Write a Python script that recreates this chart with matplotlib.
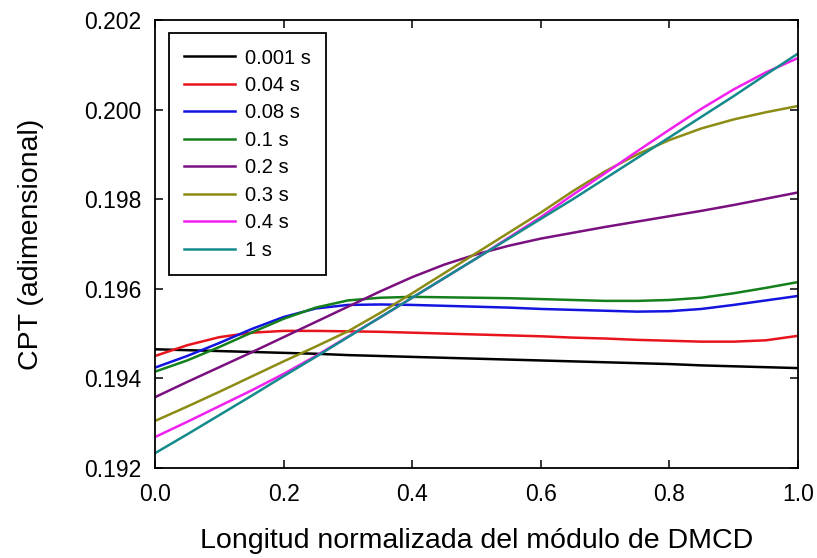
import numpy as np
import matplotlib
matplotlib.use('Agg')
import matplotlib.pyplot as plt

plt.rcParams['font.family'] = ['Liberation Sans', 'DejaVu Sans']

# posicion normalizada del modulo
x = [0.0, 0.05, 0.1, 0.15, 0.2, 0.25, 0.3, 0.35, 0.4, 0.45, 0.5,
     0.55, 0.6, 0.65, 0.7, 0.75, 0.8, 0.85, 0.9, 0.95, 1.0]

t_0001 = [0.19465, 0.19463, 0.19461, 0.19459, 0.19457, 0.19455, 0.19452, 0.19450, 0.19448, 0.19446, 0.19444,
          0.19442, 0.19440, 0.19438, 0.19436, 0.19434, 0.19432, 0.19429, 0.19427, 0.19425, 0.19423]
t_004 = [0.19450, 0.19474, 0.19492, 0.19502, 0.19506, 0.19506, 0.19505, 0.19504, 0.19502, 0.19500, 0.19498,
         0.19496, 0.19494, 0.19491, 0.19489, 0.19486, 0.19484, 0.19482, 0.19482, 0.19485, 0.19495]
t_008 = [0.19424, 0.19450, 0.19479, 0.19510, 0.19537, 0.19556, 0.19564, 0.19565, 0.19564, 0.19562, 0.19560,
         0.19558, 0.19555, 0.19553, 0.19551, 0.19549, 0.19550, 0.19555, 0.19564, 0.19574, 0.19584]
t_01 = [0.19415, 0.19440, 0.19470, 0.19502, 0.19533, 0.19558, 0.19574, 0.19580, 0.19582, 0.19581, 0.19580,
        0.19579, 0.19577, 0.19575, 0.19573, 0.19573, 0.19575, 0.19580, 0.19590, 0.19602, 0.19615]
t_02 = [0.19358, 0.19392, 0.19425, 0.19458, 0.19492, 0.19526, 0.19560, 0.19594, 0.19626, 0.19654, 0.19677,
        0.19696, 0.19712, 0.19725, 0.19738, 0.19750, 0.19762, 0.19774, 0.19787, 0.19801, 0.19815]
t_03 = [0.19305, 0.19337, 0.19370, 0.19404, 0.19438, 0.19471, 0.19505, 0.19546, 0.19590, 0.19635, 0.19680,
        0.19725, 0.19770, 0.19818, 0.19862, 0.19900, 0.19932, 0.19958, 0.19978, 0.19994, 0.20008]
t_04 = [0.19269, 0.19303, 0.19338, 0.19373, 0.19410, 0.19450, 0.19493, 0.19536, 0.19580, 0.19624, 0.19668,
        0.19714, 0.19760, 0.19810, 0.19858, 0.19907, 0.19955, 0.20002, 0.20045, 0.20083, 0.20115]
t_1 = [0.19233, 0.19275, 0.19318, 0.19361, 0.19405, 0.19448, 0.19492, 0.19536, 0.19580, 0.19624, 0.19668,
       0.19712, 0.19756, 0.19800, 0.19846, 0.19892, 0.19938, 0.19984, 0.20030, 0.20078, 0.20125]

etiquetas = ['0.001 s', '0.04 s', '0.08 s', '0.1 s', '0.2 s', '0.3 s', '0.4 s', '1 s']
colores = ['#000000', '#e8141c', '#1414e0', '#14801c', '#7a1080', '#8c8c14', '#f020f0', '#148a8c']
series = [t_0001, t_004, t_008, t_01, t_02, t_03, t_04, t_1]

fig = plt.figure(figsize=(8.17, 5.58), dpi=100)
ax = fig.add_axes([0.1897, 0.1613, 0.787, 0.8029])

for s, c, et in zip(series, colores, etiquetas):
    ax.plot(x, s, color=c, lw=1.8, label=et)

ax.set_xlim(0, 1)
ax.set_ylim(0.192, 0.202)
ax.set_xticks(np.arange(0, 1.01, 0.2))
ax.set_yticks([0.192, 0.194, 0.196, 0.198, 0.200, 0.202])
ax.set_xticklabels(['0.0', '0.2', '0.4', '0.6', '0.8', '1.0'])
ax.set_yticklabels(['0.192', '0.194', '0.196', '0.198', '0.200', '0.202'])
ax.tick_params(direction='in', length=6, width=1.1, top=True, right=True,
               labelsize=16.5)
ax.tick_params(axis='y', pad=10)
ax.tick_params(axis='x', pad=11)
for sp in ax.spines.values():
    sp.set_linewidth(1.3)

ax.set_xlabel('Longitud normalizada del módulo de DMCD', fontsize=20.5)
ax.set_ylabel('CPT (adimensional)', fontsize=20.5)
ax.xaxis.set_label_coords(0.5, -0.135)
ax.yaxis.set_label_coords(-0.172, 0.5)

leg = ax.legend(loc='upper left', bbox_to_anchor=(0.022, 0.97), fontsize=14.5,
                handlelength=2.5, handletextpad=0.5, labelspacing=0.42,
                borderpad=0.75, fancybox=False, framealpha=1, borderaxespad=0)
leg.get_frame().set_edgecolor('black')
leg.get_frame().set_linewidth(1.3)

plt.savefig('out.png', dpi=100)
